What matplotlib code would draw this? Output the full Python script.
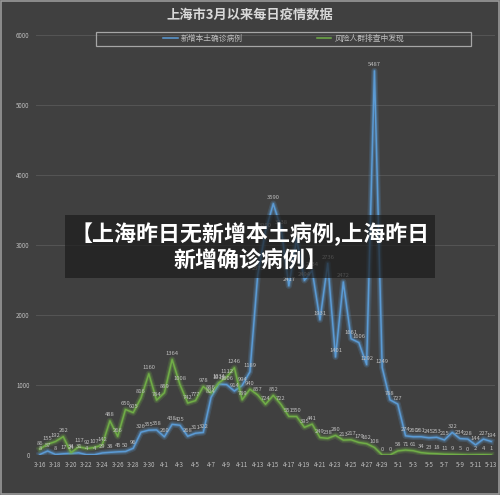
import matplotlib
matplotlib.use("Agg")
import matplotlib.pyplot as plt
from matplotlib.patches import Rectangle
from matplotlib.lines import Line2D
import datetime as dt

plt.rcParams['font.family'] = ['Noto Sans CJK SC', 'DejaVu Sans']

start = dt.date(2022, 3, 16)
dates = [start + dt.timedelta(days=i) for i in range(59)]
date_labels = [f"{d.month}-{d.day}" for d in dates]

local_confirmed = [8, 57, 8, 17, 24, 31, 4, 4, 29, 38, 45, 50, 96, 326, 355, 358,
                   260, 438, 425, 268, 311, 322, 824, 1015, 1006, 914, 994, 1189, 2573, 3200,
                   3590, 3238, 2417, 3084, 2494, 2634, 1931, 2736, 1401, 2472, 1661, 1606, 1292, 5487, 1249, 788,
                   727, 274, 260, 261, 245, 253, 215, 322, 234, 228, 144, 227, 194]
risk_screening = [86, 155, 192, 262, 34, 117, 92, 107, 142, 488, 266, 650, 605, 816, 1160, 784,
                  889, 1364, 1008, 742, 777, 978, 886, 1031, 1112, 1246, 789, 940, 857, 724,
                  852, 722, 551, 550, 395, 441, 249, 238, 280, 213, 217, 179, 162, 108, 0, 0,
                  58, 71, 61, 34, 23, 18, 11, 9, 5, 0, 2, 4, 1]

series_names = ["新增本土确诊病例", "风险人群排查中发现"]
colors = ["#5b9bd5", "#70ad47"]
title = "上海市3月以来每日疫情数据"
banner = "【上海昨日无新增本土病例,上海昨日\n新增确诊病例】"

bg = "#404040"
fig = plt.figure(figsize=(5.0, 4.95), dpi=100, facecolor=bg)
ax = fig.add_axes([36/500, 40/495, 459/500, 420/495])
ax.set_facecolor(bg)

x = list(range(len(dates)))
handles = []
for vals, col, name in zip([local_confirmed, risk_screening], colors, series_names):
    ax.plot(x, vals, color=col, lw=4.5, alpha=0.2, solid_joinstyle='round')
    ax.plot(x, vals, color=col, lw=2.6, alpha=0.32, solid_joinstyle='round')
    ax.plot(x, vals, color=col, lw=1.1, solid_joinstyle='round')
    handles.append(Line2D([0], [0], color=col, lw=1.1))
    for xi, v in zip(x, vals):
        ax.annotate(str(v), (xi, v), xytext=(0, 2.5), textcoords='offset points',
                    ha='center', va='bottom', fontsize=4.2, color='#bfbfbf')

ax.set_xlim(-0.5, len(dates) - 0.5)
ax.set_ylim(0, 6000)
ax.set_yticks(range(0, 6001, 1000))
ax.set_xticks(x[::2])
ax.set_xticklabels(date_labels[::2])
ax.tick_params(axis='both', length=0, labelsize=4.4, colors='#bfbfbf')
ax.tick_params(axis='y', pad=4.5)
ax.tick_params(axis='x', pad=4)
ax.grid(axis='y', color='#555555', lw=0.7)
ax.set_axisbelow(True)
for s in ax.spines.values():
    s.set_visible(False)

fig.text(0.5, 1 - 15/495, title, ha='center', va='center', fontsize=9.5,
         fontweight='bold', color='#d9d9d9')

# legend frame and legend
fig.patches.append(Rectangle((96/500, 1 - 46/495), 375/500, 14/495, transform=fig.transFigure,
                             facecolor='none', edgecolor='#a6a6a6', lw=0.9))
fig.legend(handles, series_names, ncol=2, loc='center', bbox_to_anchor=(283.5/500, 1 - 39/495),
           frameon=False, fontsize=5.6, labelcolor='#bfbfbf', handlelength=1.9,
           handletextpad=0.4, columnspacing=9.5)

# banner
fig.patches.append(Rectangle((65/500, 1 - 278/495), 370/500, 63/495, transform=fig.transFigure,
                             facecolor='#1a1a1a', alpha=0.68, edgecolor='none', zorder=5))
fig.text(0.5, 1 - 246.5/495, banner, ha='center', va='center', fontsize=15.8,
         fontweight='bold', color='white', linespacing=1.15, zorder=6)

# outer border
fig.patches.append(Rectangle((0.002, 0.002), 0.996, 0.996, transform=fig.transFigure,
                             facecolor='none', edgecolor='#9a9a9a', lw=1.2, zorder=7))

fig.savefig("out.png", dpi=100, facecolor=bg)
